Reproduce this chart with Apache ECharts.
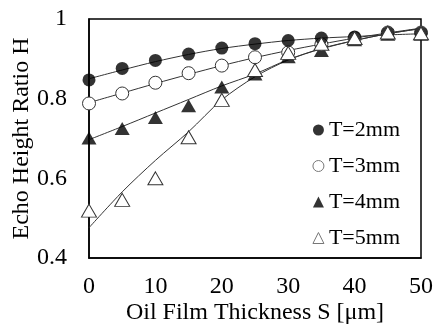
<!DOCTYPE html>
<html>
<head>
<meta charset="utf-8">
<script src="https://cdn.jsdelivr.net/npm/echarts@6/dist/echarts.min.js"></script>
<style>
  html, body { margin: 0; padding: 0; background: #fff; }
  #chart { width: 433px; height: 325px; }
</style>
</head>
<body>
<div id="chart"></div>
<script>
// thickness S [um]
var thickness = [0, 5, 10, 15, 20, 25, 30, 35, 40, 45, 50];
// measured echo height ratio (markers)
var h2mm = [0.847, 0.876, 0.896, 0.912, 0.927, 0.938, 0.946, 0.952, 0.955, 0.965, 0.965];
var h3mm = [0.788, 0.813, 0.840, 0.864, 0.883, 0.904, 0.916, 0.936, 0.952, 0.966, 0.966];
var h4mm = [0.701, 0.725, 0.753, 0.782, 0.829, 0.862, 0.905, 0.921, 0.948, 0.962, 0.962];
var h5mm = [0.519, 0.546, 0.600, 0.703, 0.797, 0.872, 0.915, 0.938, 0.952, 0.966, 0.964];
// trend lines
var fit2mm = [0.850, 0.872, 0.893, 0.911, 0.926, 0.937, 0.946, 0.952, 0.956, 0.960, 0.963];
var fit3mm = [0.790, 0.814, 0.838, 0.861, 0.883, 0.903, 0.921, 0.937, 0.952, 0.965, 0.977];
var fit4mm = [0.697, 0.730, 0.764, 0.798, 0.832, 0.862, 0.898, 0.925, 0.946, 0.963, 0.976];
var fit5mm = [0.476, 0.566, 0.645, 0.717, 0.797, 0.855, 0.897, 0.926, 0.946, 0.963, 0.976];
var legendNames = ['T=2mm', 'T=3mm', 'T=4mm', 'T=5mm'];
var xTicks = [0, 10, 20, 30, 40, 50];
var yTicks = [0.4, 0.6, 0.8, 1];

function pairs(ys) {
  return thickness.map(function (x, i) { return [x, ys[i]]; });
}

var font = '"Times New Roman", "Liberation Serif", serif';
var chart = echarts.init(document.getElementById('chart'));

function fitLine(ys) {
  return {
    type: 'line',
    data: pairs(ys),
    smooth: 0.3,
    symbol: 'none',
    silent: true,
    z: 1,
    lineStyle: { color: '#333', width: 1 }
  };
}

var option = {
  animation: false,
  grid: {
    left: 89, right: 12, top: 19, bottom: 67,
    containLabel: false, outerBoundsMode: 'none',
    show: true, borderColor: '#000', borderWidth: 1.5
  },
  legend: {
    orient: 'vertical',
    right: 28, top: 114,
    itemGap: 14,
    itemWidth: 11, itemHeight: 11,
    textStyle: { fontFamily: font, fontSize: 22, color: '#000' },
    data: [
      { name: legendNames[0], icon: 'circle', itemStyle: { color: '#000', borderWidth: 0 } },
      { name: legendNames[1], icon: 'circle', itemStyle: { color: '#fff', borderColor: '#777', borderWidth: 1 } },
      { name: legendNames[2], icon: 'triangle', itemStyle: { color: '#000', borderWidth: 0 } },
      { name: legendNames[3], icon: 'triangle', itemStyle: { color: '#fff', borderColor: '#777', borderWidth: 1 } }
    ]
  },
  xAxis: {
    type: 'value', min: 0, max: 50, interval: 10,
    name: 'Oil Film Thickness S [μm]',
    nameLocation: 'middle', nameGap: 43, nameMoveOverlap: false,
    nameTextStyle: { fontFamily: font, fontSize: 24, color: '#000' },
    axisLine: { lineStyle: { color: '#000', width: 1.5 } },
    axisTick: { show: false },
    splitLine: { show: false },
    axisLabel: {
      fontFamily: font, fontSize: 24, color: '#000', margin: 17,
      formatter: function (v) { return xTicks.indexOf(v) >= 0 ? String(v) : ''; }
    }
  },
  yAxis: {
    type: 'value', min: 0.4, max: 1, interval: 0.2,
    name: 'Echo Height Ratio H',
    nameLocation: 'middle', nameGap: 55, nameMoveOverlap: false,
    nameTextStyle: { fontFamily: font, fontSize: 24, color: '#000' },
    axisLine: { show: true, lineStyle: { color: '#000', width: 1.5 } },
    axisTick: { show: false },
    splitLine: { show: false },
    axisLabel: {
      fontFamily: font, fontSize: 24, color: '#000', margin: 22,
      formatter: function (v) {
        var r = Math.round(v * 10) / 10;
        return yTicks.indexOf(r) >= 0 ? String(r) : '';
      }
    }
  },
  series: [
    fitLine(fit2mm), fitLine(fit3mm), fitLine(fit4mm), fitLine(fit5mm),
    {
      name: legendNames[0], type: 'scatter', data: pairs(h2mm), z: 5,
      symbol: 'circle', symbolSize: 13,
      itemStyle: { color: '#000' }
    },
    {
      name: legendNames[1], type: 'scatter', data: pairs(h3mm), z: 4,
      symbol: 'circle', symbolSize: 13,
      itemStyle: { color: '#fff', borderColor: '#333', borderWidth: 1, opacity: 1 }
    },
    {
      name: legendNames[2], type: 'scatter', data: pairs(h4mm), z: 3,
      symbol: 'triangle', symbolSize: [15, 13],
      itemStyle: { color: '#000' }
    },
    {
      name: legendNames[3], type: 'scatter', data: pairs(h5mm), z: 6,
      symbol: 'triangle', symbolSize: [15, 13],
      itemStyle: { color: '#fff', borderColor: '#333', borderWidth: 1, opacity: 1 }
    }
  ]
};
chart.setOption(option);
</script>
</body>
</html>
